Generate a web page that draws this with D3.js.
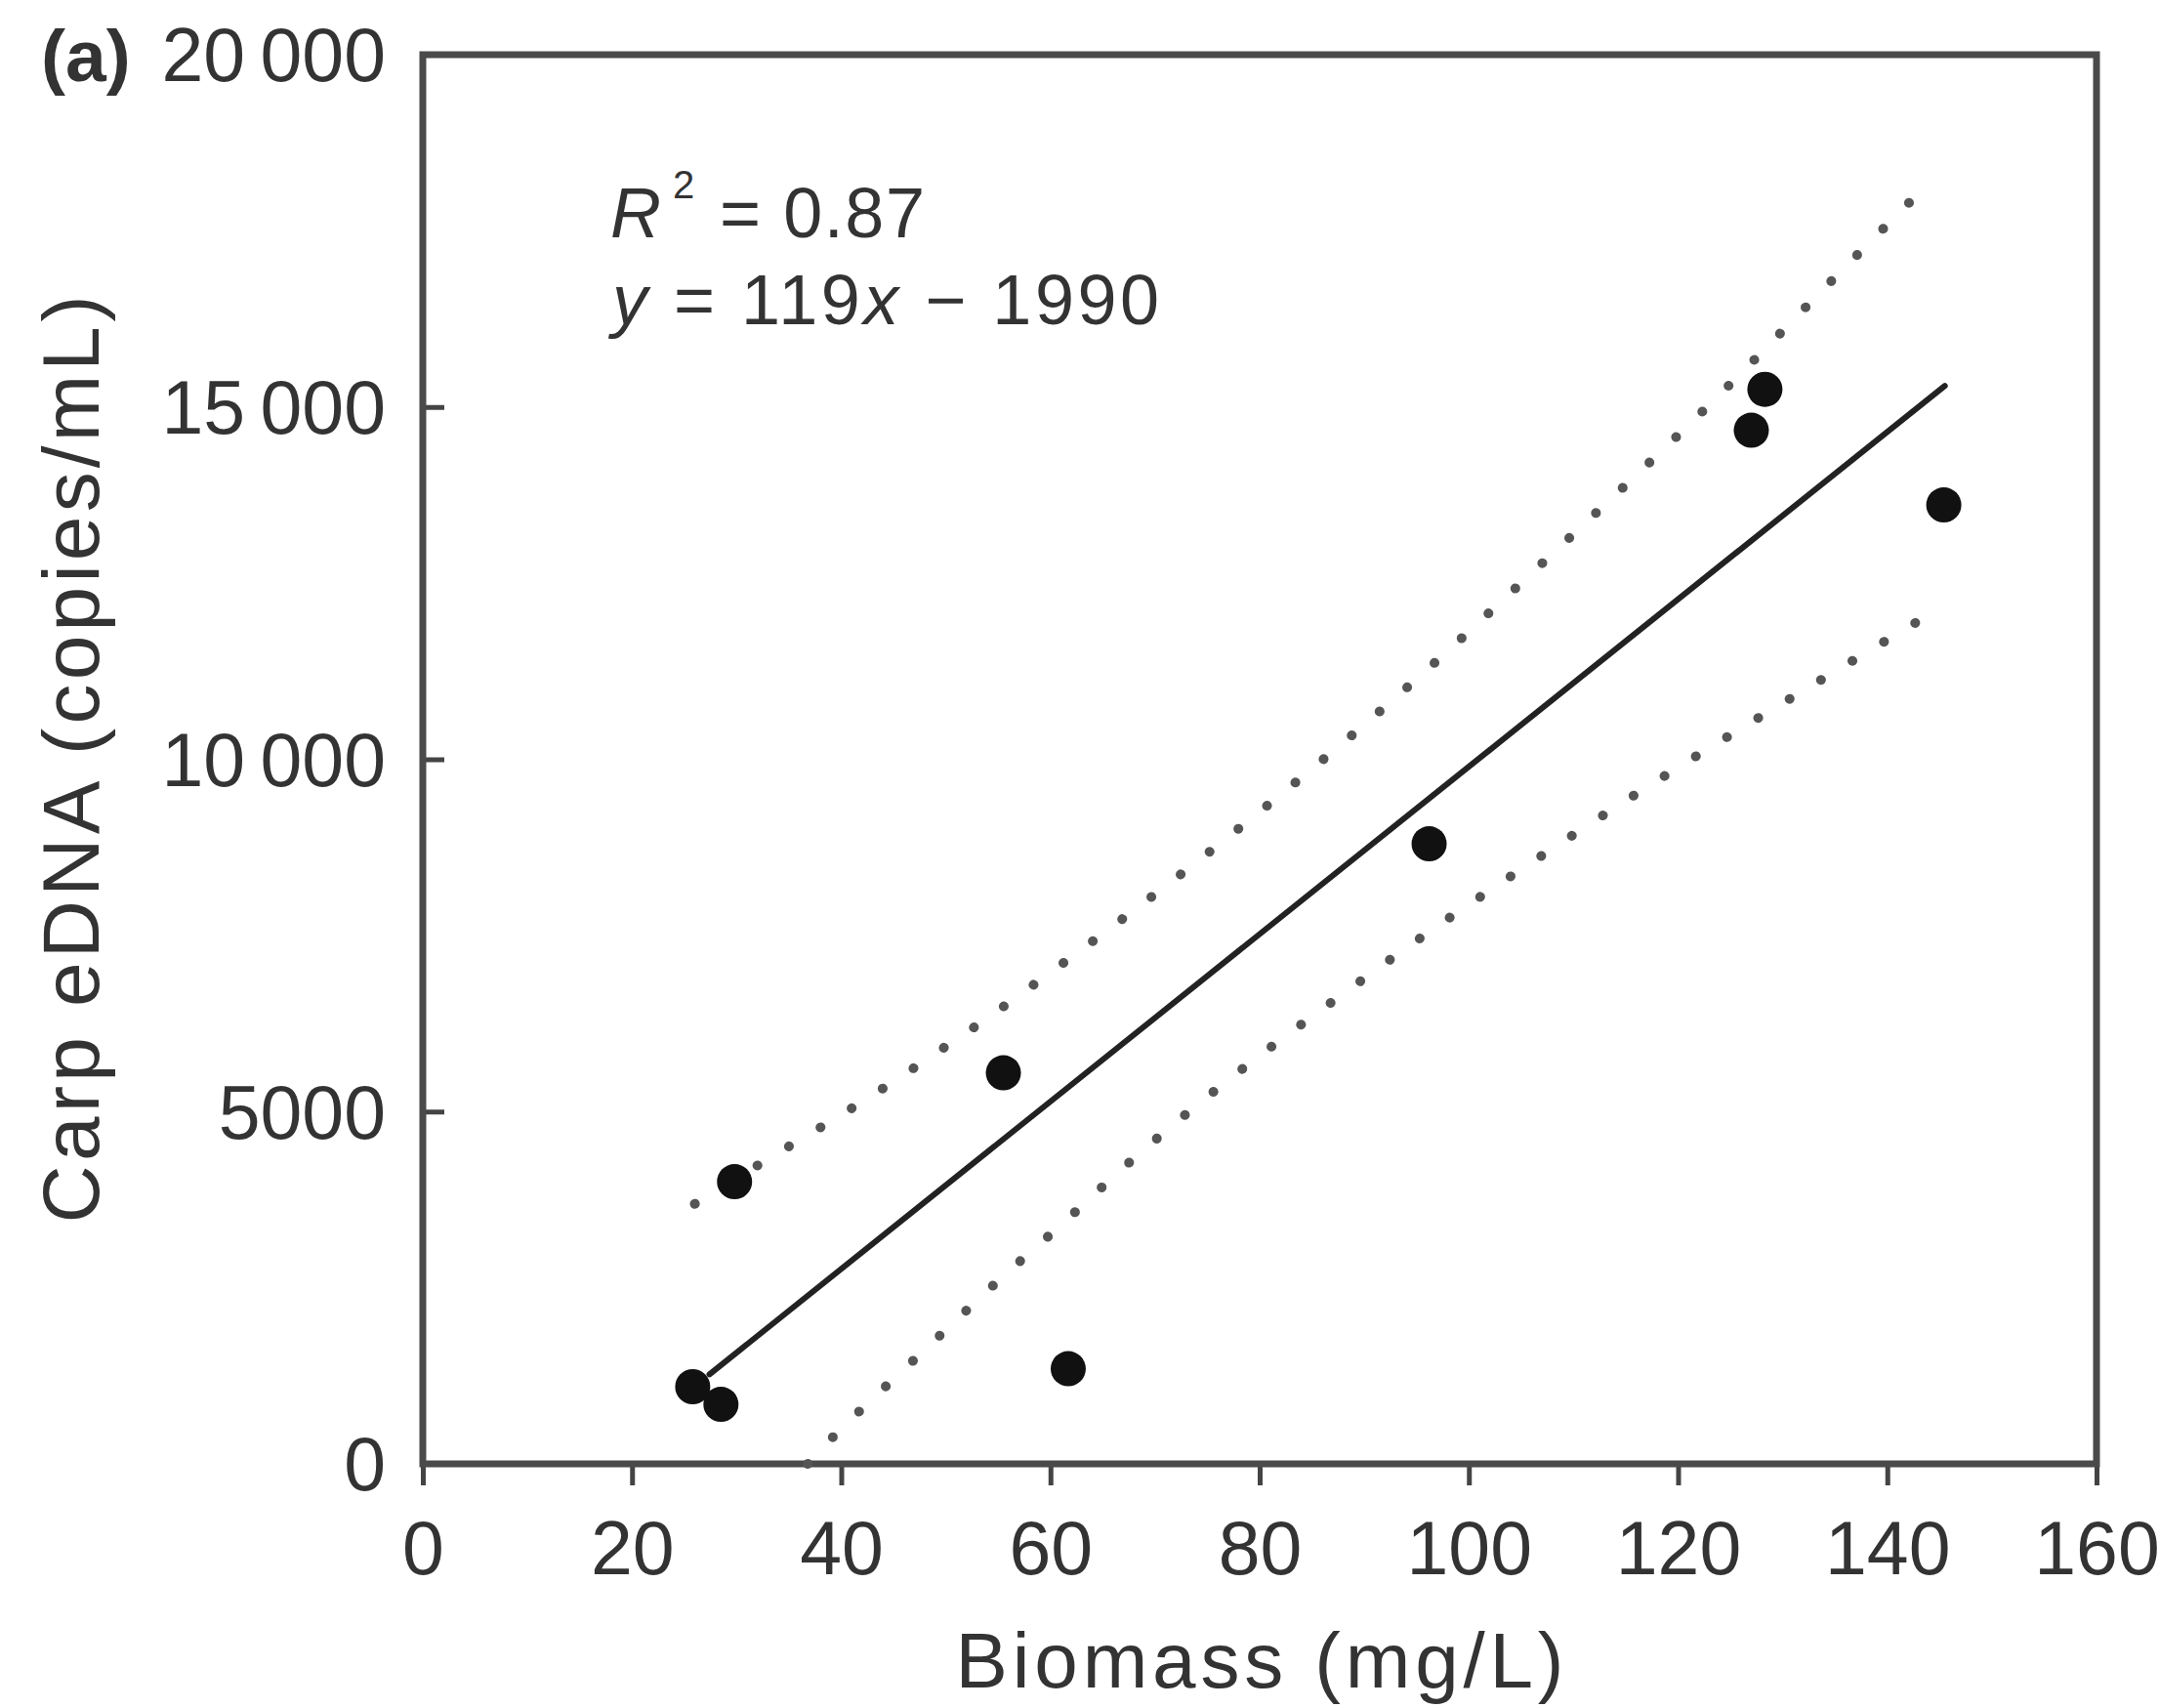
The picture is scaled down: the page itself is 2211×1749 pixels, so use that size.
<!DOCTYPE html>
<html>
<head>
<meta charset="utf-8">
<script src="https://cdn.jsdelivr.net/npm/d3@7"></script>
<style>
  html, body { margin: 0; padding: 0; background: #fff; }
  svg { display: block; }
  text { font-family: "Liberation Sans", Arial, Helvetica, sans-serif; fill: #333; }
</style>
</head>
<body>
<svg id="chart" width="2211" height="1749"></svg>
<script>
// ---- data ----
const biomass = [25.8, 28.5, 29.8, 55.5, 61.7, 96.2, 127.0, 128.3, 145.4];
const eDNA    = [1095, 845, 4005, 5550, 1350, 8800, 14670, 15250, 13610];

const fitX = [27.4, 145.5];
const fitY = [1270, 15300];

const upperX = [26.0, 34.0, 39.8, 45.4, 50.6, 53.5, 72.5, 91.6, 102.4, 116.0, 121.7, 127.2, 132.4, 137.8, 143.1];
const upperY = [3690, 4420, 4930, 5460, 5990, 6265, 8330, 10660, 12140, 14030, 14840, 15650, 16450, 17260, 18050];

const lowerX = [36.8, 39.5, 45.2, 50.7, 55.9, 61.7, 66.7, 77.9, 91.6, 97.0, 116.0, 130.0, 143.4];
const lowerY = [0, 440, 1230, 2000, 2730, 3470, 4190, 5590, 7060, 7650, 9530, 10800, 12000];

const xTicks = [0, 20, 40, 60, 80, 100, 120, 140, 160];
const yTicks = [0, 5000, 10000, 15000, 20000];
const yTickLabels = ["0", "5000", "10\u2009000", "15\u2009000", "20\u2009000"];

const xTitle = "Biomass (mg/L)";
const yTitle = "Carp eDNA (copies/mL)";
const panelLabel = "(a)";

// ---- layout ----
const svg = d3.select("#chart");
const L = 433, R = 2147, T = 56, B = 1499;

svg.append("rect").attr("width", 2211).attr("height", 1749).attr("fill", "#fff");

const x = d3.scaleLinear().domain([0, 160]).range([L, R]);
const y = d3.scaleLinear().domain([0, 20000]).range([B, T]);

// axes
const xAxis = d3.axisBottom(x).tickValues(xTicks).tickFormat(d3.format("d"))
  .tickSizeInner(22).tickSizeOuter(0).tickPadding(36);
const gx = svg.append("g").attr("transform", `translate(0,${B})`).call(xAxis);

const yAxis = d3.axisLeft(y).tickValues(yTicks).tickFormat((d, i) => yTickLabels[i])
  .tickSizeInner(-22).tickSizeOuter(0).tickPadding(38);
const gy = svg.append("g").attr("transform", `translate(${L},0)`).call(yAxis);

[gx, gy].forEach(g => {
  g.select(".domain").remove();
  g.selectAll(".tick line").attr("stroke", "#444").attr("stroke-width", 5);
  g.selectAll(".tick text")
    .attr("font-size", 77)
    .attr("fill", "#333")
    .attr("font-family", "'Liberation Sans', Arial, sans-serif");
});
gy.selectAll(".tick text").attr("dy", "0.35em");

// frame
svg.append("rect")
  .attr("x", L).attr("y", T)
  .attr("width", R - L).attr("height", B - T)
  .attr("fill", "none").attr("stroke", "#4a4a4a").attr("stroke-width", 7);

// prediction interval dotted curves
const dotted = (xs, ys) => d3.line()
  .x((d, i) => x(xs[i])).y((d, i) => y(ys[i]))
  .curve(d3.curveBasis)(xs);

[[upperX, upperY], [lowerX, lowerY]].forEach(([xs, ys]) => {
  svg.append("path")
    .attr("d", dotted(xs, ys))
    .attr("fill", "none")
    .attr("stroke", "#555")
    .attr("stroke-width", 10)
    .attr("stroke-linecap", "round")
    .attr("stroke-dasharray", "0.1 37.5");
});

// regression line
svg.append("path")
  .attr("d", d3.line().x((d, i) => x(fitX[i])).y((d, i) => y(fitY[i]))(fitX))
  .attr("fill", "none")
  .attr("stroke", "#222")
  .attr("stroke-width", 6)
  .attr("stroke-linecap", "round");

// points
svg.append("g").selectAll("circle")
  .data(biomass)
  .join("circle")
  .attr("cx", d => x(d))
  .attr("cy", (d, i) => y(eDNA[i]))
  .attr("r", 18)
  .attr("fill", "#111");

// annotation
const ann = svg.append("g");
ann.append("text").attr("x", 625).attr("y", 243).attr("font-size", 72)
  .attr("font-style", "italic").text("R");
ann.append("text").attr("x", 689).attr("y", 203).attr("font-size", 40).text("2");
ann.append("text").attr("x", 737).attr("y", 243).attr("font-size", 72)
  .attr("textLength", 210).attr("lengthAdjust", "spacing").text("= 0.87");

const l2 = ann.append("text").attr("x", 627).attr("y", 332).attr("font-size", 72)
  .attr("textLength", 560).attr("lengthAdjust", "spacing");
l2.append("tspan").attr("font-style", "italic").text("y");
l2.append("tspan").text(" = 119");
l2.append("tspan").attr("font-style", "italic").text("x");
l2.append("tspan").text(" \u2212 1990");

// panel label
svg.append("text").attr("x", 42).attr("y", 83).attr("font-size", 75)
  .attr("font-weight", "bold").attr("fill", "#222").text(panelLabel);

// axis titles
svg.append("text")
  .attr("x", (L + R) / 2).attr("y", 1728)
  .attr("text-anchor", "middle").attr("font-size", 80)
  .attr("textLength", 623).attr("lengthAdjust", "spacing")
  .text(xTitle);

svg.append("text")
  .attr("transform", `translate(101,${(T + B) / 2}) rotate(-90)`)
  .attr("text-anchor", "middle").attr("font-size", 82)
  .attr("textLength", 950).attr("lengthAdjust", "spacing")
  .text(yTitle);
</script>
</body>
</html>
